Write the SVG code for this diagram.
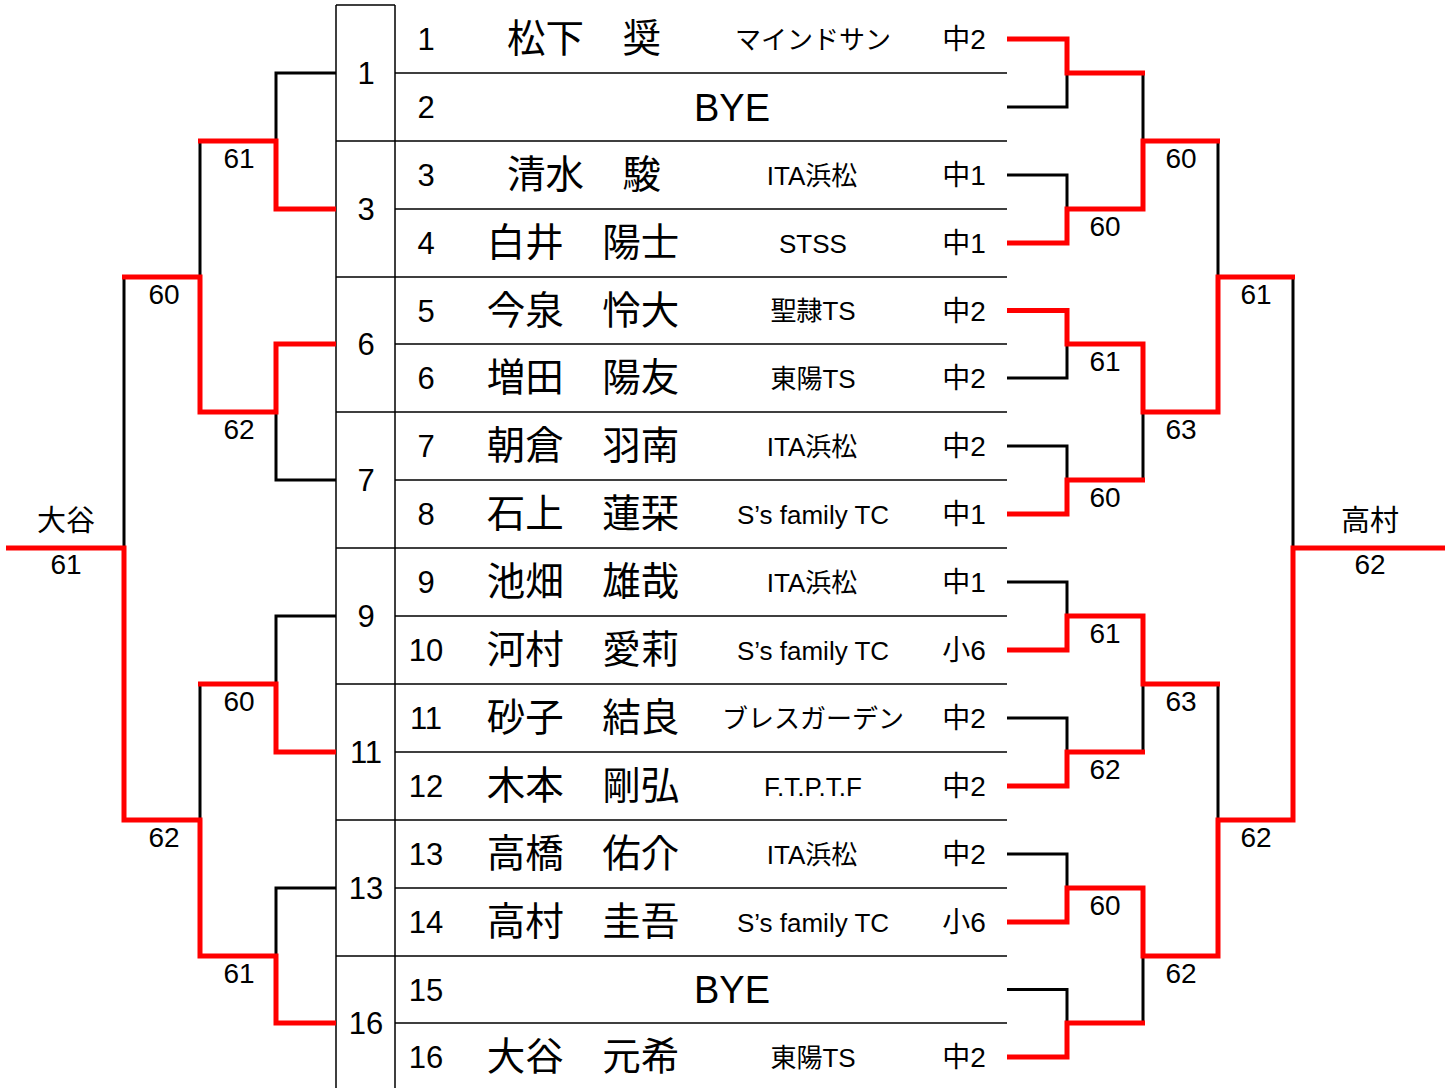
<svg xmlns="http://www.w3.org/2000/svg" width="1455" height="1088" viewBox="0 0 1455 1088">
<style>
text{font-family:"Liberation Sans","Noto Sans CJK JP",sans-serif;fill:#000;text-anchor:middle}
.tl{stroke:#000;stroke-width:1.5;fill:none}
.bk{stroke:#000;stroke-width:3;fill:none}
.rd{stroke:#f00;stroke-width:5;fill:none;stroke-linejoin:miter}
.num{font-size:31px}
.nm{font-size:38.5px}
.tm{font-size:26px}
.gr{font-size:28px}
.bye{font-size:38px}
.lb{font-size:28px}
.pl{font-size:29px}
</style>
<rect width="1455" height="1088" fill="#fff"/>
<g id="table">
<path class="tl" d="M336,5H395M336,5V1088M395,5V1088"/>
<path class="tl" d="M336,141H1007M336,277H1007M336,412H1007M336,548H1007M336,684H1007M336,820H1007M336,956H1007"/>
<path class="tl" d="M395,73H1007M395,209H1007M395,344H1007M395,480H1007M395,616H1007M395,752H1007M395,888H1007M395,1023H1007"/>
</g>
<g id="seeds">
<g id="seed1"><text class="num" x="366" y="84">1</text></g>
<g id="seed3"><text class="num" x="366" y="220">3</text></g>
<g id="seed6"><text class="num" x="366" y="355">6</text></g>
<g id="seed7"><text class="num" x="366" y="491">7</text></g>
<g id="seed9"><text class="num" x="366" y="627">9</text></g>
<g id="seed11"><text class="num" x="366" y="763">11</text></g>
<g id="seed13"><text class="num" x="366" y="899">13</text></g>
<g id="seed16"><text class="num" x="366" y="1034">16</text></g>
</g>
<g id="rows">
<g id="row1"><text class="num" x="426" y="50">1</text><text class="nm" x="584" y="52">松下　奨</text><text class="tm" x="813" y="48.5">マインドサン</text><text class="gr" x="964" y="49">中2</text></g>
<g id="row2"><text class="num" x="426" y="118">2</text><text class="bye" x="732" y="120.5">BYE</text></g>
<g id="row3"><text class="num" x="426" y="186">3</text><text class="nm" x="584" y="188">清水　駿</text><text class="tm" x="812" y="184.5">ITA浜松</text><text class="gr" x="964" y="185">中1</text></g>
<g id="row4"><text class="num" x="426" y="254">4</text><text class="nm" x="583" y="256">白井　陽士</text><text class="tm" x="813" y="252.5">STSS</text><text class="gr" x="964" y="253">中1</text></g>
<g id="row5"><text class="num" x="426" y="321.5">5</text><text class="nm" x="583" y="323.5">今泉　怜大</text><text class="tm" x="813" y="320">聖隷TS</text><text class="gr" x="964" y="320.5">中2</text></g>
<g id="row6"><text class="num" x="426" y="389">6</text><text class="nm" x="583" y="391">増田　陽友</text><text class="tm" x="813" y="387.5">東陽TS</text><text class="gr" x="964" y="388">中2</text></g>
<g id="row7"><text class="num" x="426" y="457">7</text><text class="nm" x="583" y="459">朝倉　羽南</text><text class="tm" x="812" y="455.5">ITA浜松</text><text class="gr" x="964" y="456">中2</text></g>
<g id="row8"><text class="num" x="426" y="525">8</text><text class="nm" x="583" y="527">石上　蓮栞</text><text class="tm" x="813" y="523.5">S’s family TC</text><text class="gr" x="964" y="524">中1</text></g>
<g id="row9"><text class="num" x="426" y="593">9</text><text class="nm" x="583" y="595">池畑　雄哉</text><text class="tm" x="812" y="591.5">ITA浜松</text><text class="gr" x="964" y="592">中1</text></g>
<g id="row10"><text class="num" x="426" y="661">10</text><text class="nm" x="583" y="663">河村　愛莉</text><text class="tm" x="813" y="659.5">S’s family TC</text><text class="gr" x="964" y="660">小6</text></g>
<g id="row11"><text class="num" x="426" y="729">11</text><text class="nm" x="583" y="731">砂子　結良</text><text class="tm" x="813" y="727.5">ブレスガーデン</text><text class="gr" x="964" y="728">中2</text></g>
<g id="row12"><text class="num" x="426" y="797">12</text><text class="nm" x="583" y="799">木本　剛弘</text><text class="tm" x="813" y="795.5">F.T.P.T.F</text><text class="gr" x="964" y="796">中2</text></g>
<g id="row13"><text class="num" x="426" y="865">13</text><text class="nm" x="583" y="867">高橋　佑介</text><text class="tm" x="812" y="863.5">ITA浜松</text><text class="gr" x="964" y="864">中2</text></g>
<g id="row14"><text class="num" x="426" y="933">14</text><text class="nm" x="583" y="935">高村　圭吾</text><text class="tm" x="813" y="931.5">S’s family TC</text><text class="gr" x="964" y="932">小6</text></g>
<g id="row15"><text class="num" x="426" y="1000.5">15</text><text class="bye" x="732" y="1003">BYE</text></g>
<g id="row16"><text class="num" x="426" y="1068">16</text><text class="nm" x="583" y="1070">大谷　元希</text><text class="tm" x="813" y="1066.5">東陽TS</text><text class="gr" x="964" y="1067">中2</text></g>
</g>
<g id="connectors">
<path class="bk" d="M336,73H276V209H336M336,344H276V480H336M336,616H276V752H336M336,888H276V1023H336"/>
<path class="bk" d="M276,141H200V412H276M276,684H200V956H276"/>
<path class="bk" d="M200,277H124V820H200M124,548H6"/>
<path class="bk" d="M1007,39H1067V107H1007M1007,175H1067V243H1007M1007,310.5H1067V378H1007M1007,446H1067V514H1007M1007,582H1067V650H1007M1007,718H1067V786H1007M1007,854H1067V922H1007M1007,989.5H1067V1057H1007"/>
<path class="bk" d="M1067,73H1143V209H1067M1067,344H1143V480H1067M1067,616H1143V752H1067M1067,888H1143V1023H1067"/>
<path class="bk" d="M1143,141H1218V412H1143M1143,684H1218V956H1143"/>
<path class="bk" d="M1218,277H1293V820H1218M1293,548H1445"/>
<path class="rd" d="M336,209H276V141H198"/>
<path class="rd" d="M336,344H276V412H200V277H122"/>
<path class="rd" d="M336,752H276V684H198"/>
<path class="rd" d="M336,1023H276V956H200V820H124V548H6"/>
<path class="rd" d="M1007,39H1067V73H1145"/>
<path class="rd" d="M1007,243H1067V209H1143V141H1220"/>
<path class="rd" d="M1007,310.5H1067V344H1143V412H1218V277H1295"/>
<path class="rd" d="M1007,514H1067V480H1145"/>
<path class="rd" d="M1007,650H1067V616H1143V684H1220"/>
<path class="rd" d="M1007,786H1067V752H1145"/>
<path class="rd" d="M1007,922H1067V888H1143V956H1218V820H1293V548H1445"/>
<path class="rd" d="M1007,1057H1067V1023H1145"/>
</g>
<g id="scores">
<text class="lb" x="239" y="168">61</text>
<text class="lb" x="164" y="304">60</text>
<text class="lb" x="239" y="439">62</text>
<text class="lb" x="239" y="711">60</text>
<text class="lb" x="164" y="847">62</text>
<text class="lb" x="239" y="983">61</text>
<text class="lb" x="1181" y="168">60</text>
<text class="lb" x="1105" y="236">60</text>
<text class="lb" x="1256" y="304">61</text>
<text class="lb" x="1105" y="371">61</text>
<text class="lb" x="1181" y="439">63</text>
<text class="lb" x="1105" y="507">60</text>
<text class="lb" x="1105" y="643">61</text>
<text class="lb" x="1181" y="711">63</text>
<text class="lb" x="1105" y="779">62</text>
<text class="lb" x="1256" y="847">62</text>
<text class="lb" x="1105" y="915">60</text>
<text class="lb" x="1181" y="983">62</text>
</g>
<g id="winner-left"><text class="pl" x="66" y="531">大谷</text><text class="lb" x="66" y="574">61</text></g>
<g id="winner-right"><text class="pl" x="1370" y="531">高村</text><text class="lb" x="1370" y="574">62</text></g>
</svg>
